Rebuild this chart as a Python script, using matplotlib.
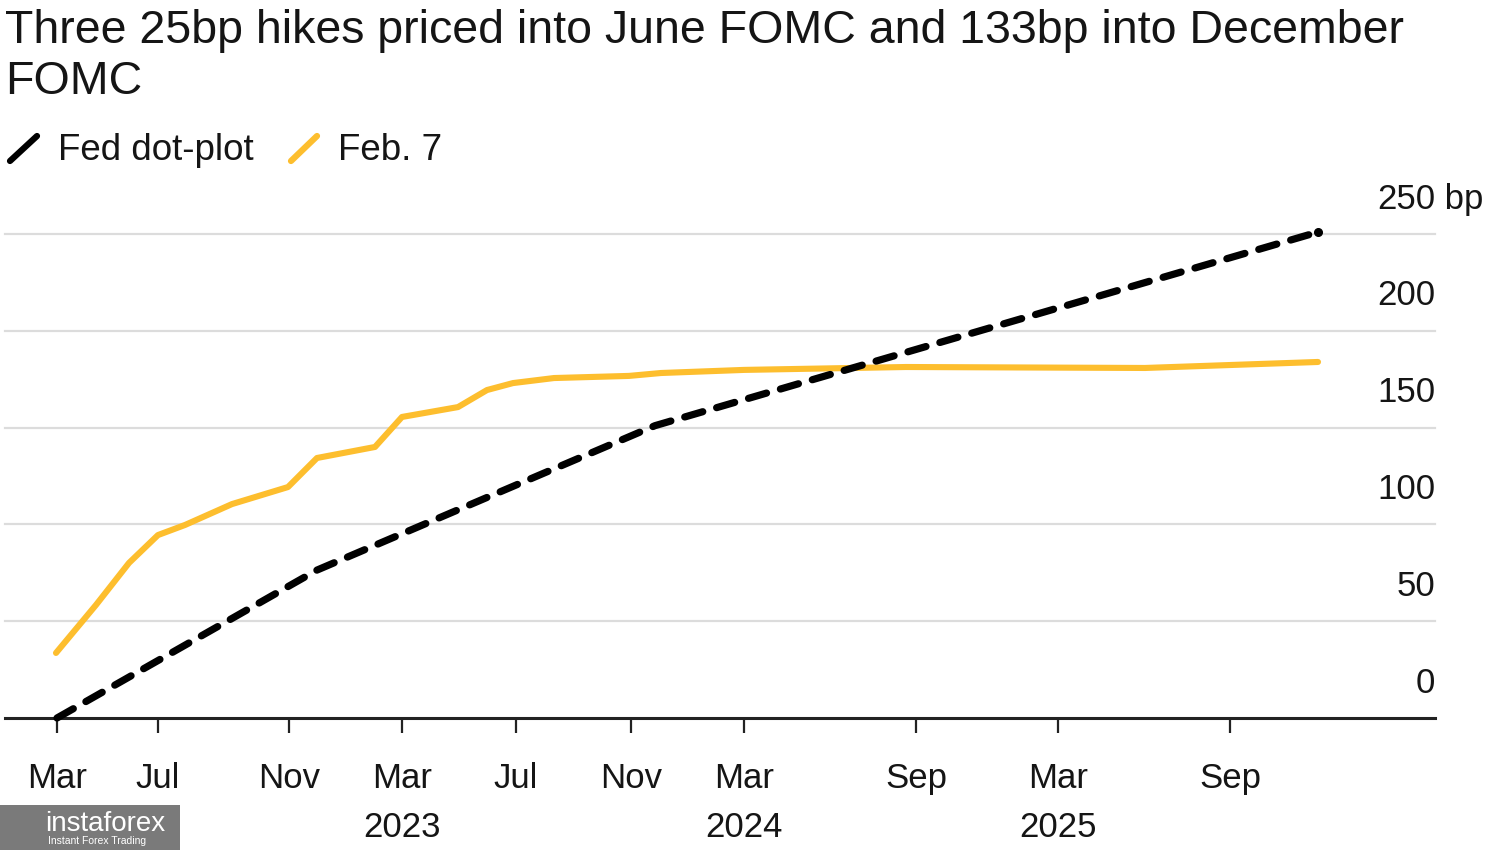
import matplotlib.pyplot as plt
from matplotlib.lines import Line2D
from matplotlib.patches import Rectangle

plt.rcParams['font.family'] = ['Liberation Sans', 'DejaVu Sans']

# horizontal positions follow the reference's (uneven) time axis
tick_x = [57, 158, 289, 402, 516, 631, 744, 916, 1058, 1230]
tick_labels = ['Mar\n2022', 'Jul', 'Nov', 'Mar\n2023', 'Jul', 'Nov',
               'Mar\n2024', 'Sep', 'Mar\n2025', 'Sep']

dot_x = [57, 317, 655, 1318]
dot_bp = [0, 76.4, 151, 251]

feb_x = [56, 96, 129, 158, 185, 232, 288, 317, 375, 402, 458, 487, 513,
         554, 629, 661, 744, 906, 1145, 1318]
feb_bp = [33.6, 58.4, 80.1, 94.5, 99.7, 110.5, 119.3, 134.3, 140, 155.5,
          160.6, 169.4, 173, 175.6, 176.7, 178.2, 179.8, 181.3, 180.8, 183.9]

y_ticks = [0, 50, 100, 150, 200, 250]

YELLOW = '#FDBE2E'
INK = '#151515'

fig = plt.figure(figsize=(15, 8.5), dpi=100)
ax = fig.add_axes([5 / 1500, 132 / 850, 1430 / 1500, 484 / 850])
ax.set_xlim(5, 1435)
ax.set_ylim(0, 250)

for v in y_ticks[1:]:
    ax.axhline(v, color='#dcdcdc', lw=1.6, zorder=1, clip_on=False)

ax.plot(feb_x, feb_bp, color=YELLOW, lw=4.4, solid_capstyle='round',
        solid_joinstyle='round', zorder=3, clip_on=False)
ax.plot(dot_x, dot_bp, color='black', lw=5.2, dashes=(2.6, 2.0),
        dash_capstyle='round', zorder=4, clip_on=False,
        marker='o', markersize=5.5, markevery=[len(dot_x) - 1])

for sp in ['top', 'left', 'right']:
    ax.spines[sp].set_visible(False)
ax.spines['bottom'].set_linewidth(2.2)
ax.spines['bottom'].set_color('#222222')
ax.set_yticks([])

ax.set_xticks(tick_x)
ax.set_xticklabels(tick_labels)
ax.tick_params(axis='x', length=11, width=1.6, color='#222222', pad=21,
               labelsize=25, labelcolor=INK)
for lab in ax.get_xticklabels():
    lab.set_linespacing(1.6)

# y labels sit above their gridlines on the right
for v in y_ticks:
    ax.text(1435, v + 18, str(v), ha='right', va='center', fontsize=25,
            color=INK, clip_on=False)
ax.text(1435, 250 + 18, ' bp', ha='left', va='center', fontsize=25,
        color=INK, clip_on=False)

fig.text(5 / 1500, 1 - 9 / 850,
         'Three 25bp hikes priced into June FOMC and 133bp into December\nFOMC',
         ha='left', va='top', fontsize=33.5, color=INK, linespacing=1.22)

# legend
fig.add_artist(Line2D([10 / 1500, 37 / 1500], [1 - 161 / 850, 1 - 136 / 850],
                      color='black', lw=4.5, solid_capstyle='round'))
fig.text(58 / 1500, 1 - 151 / 850, 'Fed dot-plot', ha='left', va='center',
         fontsize=26.5, color=INK)
fig.add_artist(Line2D([291 / 1500, 317 / 1500], [1 - 161 / 850, 1 - 136 / 850],
                      color=YELLOW, lw=4.5, solid_capstyle='round'))
fig.text(338 / 1500, 1 - 151 / 850, 'Feb. 7', ha='left', va='center',
         fontsize=26.5, color=INK)

# watermark box at bottom left (covers the 2022 label as in the source)
fig.add_artist(Rectangle((0, 0), 180 / 1500, 45 / 850, transform=fig.transFigure,
                         facecolor='#7a7a7a', edgecolor='none', zorder=10))
fig.text(45 / 1500, 26 / 850, 'instaforex', ha='left', va='center',
         fontsize=20, color='white', zorder=11)
fig.text(48 / 1500, 9 / 850, 'Instant Forex Trading', ha='left', va='center',
         fontsize=7.5, color='white', zorder=11)

fig.savefig('out.png', dpi=100, facecolor='white')
